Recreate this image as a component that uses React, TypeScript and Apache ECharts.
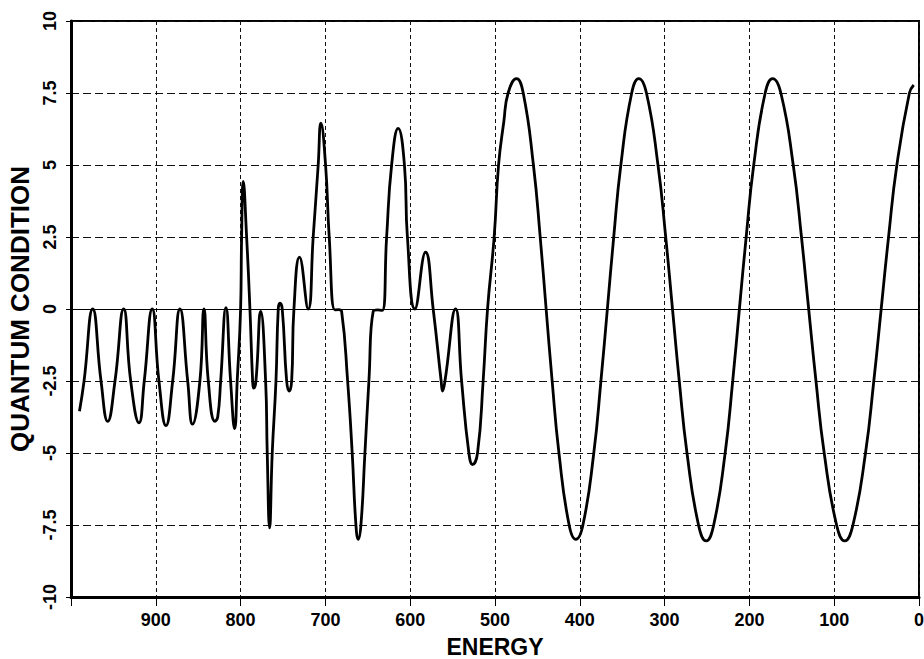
import React, { useEffect, useRef } from 'react';
import * as echarts from 'echarts';

// Energy values (x), high to low
const energy = [
  990, 984.6, 974.4, 964.6, 956.7, 948.1, 937.9, 929.6, 919.8, 913.6,
  904.2, 896.3, 888, 880.1, 871.5, 862.4, 856.7, 848, 843.2, 838.1,
  830.2, 827, 823.5, 817.3, 811.8, 807, 804, 800, 798.8, 796.9,
  792.9, 789, 785.8, 784.6, 781.9, 776.3, 770.5, 768.6, 765.8, 762.7,
  758.3, 755.6, 753.6, 750.9, 745.7, 742.7, 739.8, 737.1, 730.5, 720.3,
  714.4, 708.5, 705.3, 699.8, 695.5, 688.8, 684.8, 680.9, 673.8, 668.4,
  664, 661.3, 658.1, 653.4, 648.7, 643.6, 638.3, 633, 627.8, 621.9,
  614.2, 606.8, 603.3, 594.5, 581.9, 572.9, 563.5, 561.8, 559, 546.5,
  539.4, 530.8, 526.5, 520.6, 514, 508.8, 501, 495.8, 489.6, 484.5,
  474.6, 466.7, 454.7, 446.7, 439.7, 432.6, 424.6, 412.6, 404.7, 396.3,
  383.5, 375.1, 367.5, 360.0, 351.6, 338.8, 330.4, 321.4, 307.8, 298.7,
  290.7, 282.7, 273.6, 260.0, 251, 242.1, 228.6, 219.7, 211.8, 203.8,
  194.9, 181.4, 172.5, 162.9, 148.3, 138.6, 130.1, 121.5, 111.8, 97.2,
  87.6, 77.9, 63.1, 53.3, 44.6, 35.9, 26.1, 11.3, 6.2,
];

// Quantum condition values (y), same order as energy
const quantumCondition = [
  -3.55, -2.5, 0, -2.5, -3.9, -2.5, 0, -2.5, -3.95, -2.5,
  0, -2.5, -4.05, -2.5, 0, -2.5, -4.0, -2.5, 0, -2.5,
  -3.9, -3.75, -2.5, 0.05, -2.5, -4.15, -2.5, 0, 2.5, 4.43,
  2.5, 0, -2.5, -2.75, -2.5, -0.08, -2.5, -5, -7.6, -5,
  -2.5, 0, 0.2, 0, -2.5, -2.85, -2.5, 0, 1.8, 0,
  2.5, 5, 6.45, 5, 2.5, -0.03, -0.02, -0.08, -2.5, -5,
  -7.5, -8.0, -7.5, -5, -2.5, -0.08, -0.03, -0.05, 2.5, 5,
  6.27, 5, 2.5, 0, 1.97, 0, -2.5, -2.85, -2.5, 0,
  -2.5, -5, -5.4, -5, -2.5, 0, 2.5, 5, 6.5, 7.5,
  8.0, 7.5, 5, 2.5, 0, -2.5, -5, -7.5, -8.0, -7.5,
  -5, -2.5, 0, 2.5, 5, 7.5, 8.0, 7.5, 5, 2.5,
  0, -2.5, -5, -7.5, -8.05, -7.5, -5, -2.5, 0, 2.5,
  5, 7.5, 8.0, 7.5, 5, 2.5, 0, -2.5, -5, -7.5,
  -8.05, -7.5, -5, -2.5, 0, 2.5, 5, 7.5, 7.78,
];

const xMin = 0;
const xMax = 1000;
const xStep = 100;
const yMin = -10;
const yMax = 10;
const yStep = 2.5;

const FONT = '"Liberation Sans", Arial, Helvetica, sans-serif';

export default function App() {
  const ref = useRef<HTMLDivElement>(null);

  useEffect(() => {
    if (!ref.current) return;
    const chart = echarts.init(ref.current, null, { renderer: 'svg' });
    const data = energy.map((e, i) => [e, quantumCondition[i]]);
    chart.setOption({
      animation: false,
      backgroundColor: '#fff',
      grid: {
        left: 71,
        right: 5,
        top: 21,
        bottom: 62,
        show: true,
        borderColor: '#000',
        borderWidth: 2,
        backgroundColor: 'transparent',
        containLabel: false,
        outerBoundsMode: 'none',
      },
      xAxis: {
        type: 'value',
        min: xMin,
        max: xMax,
        interval: xStep,
        inverse: true,
        name: 'ENERGY',
        nameLocation: 'middle',
        nameGap: 38,
        nameTextStyle: { fontFamily: FONT, fontWeight: 'bold', fontSize: 23, color: '#000' },
        axisLine: { show: true, onZero: false, lineStyle: { color: '#000', width: 3 } },
        axisTick: { show: true, inside: false, length: 9, lineStyle: { color: '#000', width: 1 } },
        axisLabel: {
          show: true,
          showMinLabel: true,
          showMaxLabel: true,
          hideOverlap: false,
          alignMinLabel: 'center',
          alignMaxLabel: 'center',
          margin: 14,
          fontFamily: FONT,
          fontWeight: 'bold',
          fontSize: 18,
          color: '#000',
          formatter: (v: number) => (v === xMax ? ' ' : String(v)),
        },
        splitLine: { show: true, lineStyle: { color: '#111', width: 1, type: [4, 3] } },
      },
      yAxis: {
        type: 'value',
        min: yMin,
        max: yMax,
        interval: yStep,
        name: 'QUANTUM CONDITION',
        nameLocation: 'middle',
        nameGap: 35,
        nameTextStyle: { fontFamily: FONT, fontWeight: 'bold', fontSize: 26, color: '#000' },
        axisLine: { show: true, onZero: false, lineStyle: { color: '#000', width: 3 } },
        axisTick: { show: true, inside: false, length: 5, lineStyle: { color: '#000', width: 1 } },
        axisLabel: {
          show: true,
          rotate: 90,
          margin: 12,
          fontFamily: FONT,
          fontWeight: 'bold',
          fontSize: 18,
          color: '#000',
        },
        splitLine: { show: true, lineStyle: { color: '#111', width: 1, type: [8, 4] } },
      },
      series: [
        {
          type: 'line',
          data,
          smooth: 0.5,
          showSymbol: false,
          symbol: 'none',
          lineStyle: { color: '#000', width: 2.8 },
          markLine: {
            silent: true,
            symbol: 'none',
            label: { show: false },
            lineStyle: { color: '#000', width: 1, type: 'solid' },
            data: [{ yAxis: 0 }],
          },
        },
      ],
    });
    return () => chart.dispose();
  }, []);

  return (
    <div
      ref={ref}
      style={{ position: 'fixed', left: 0, top: 0, width: 924, height: 659, background: '#fff' }}
    />
  );
}
